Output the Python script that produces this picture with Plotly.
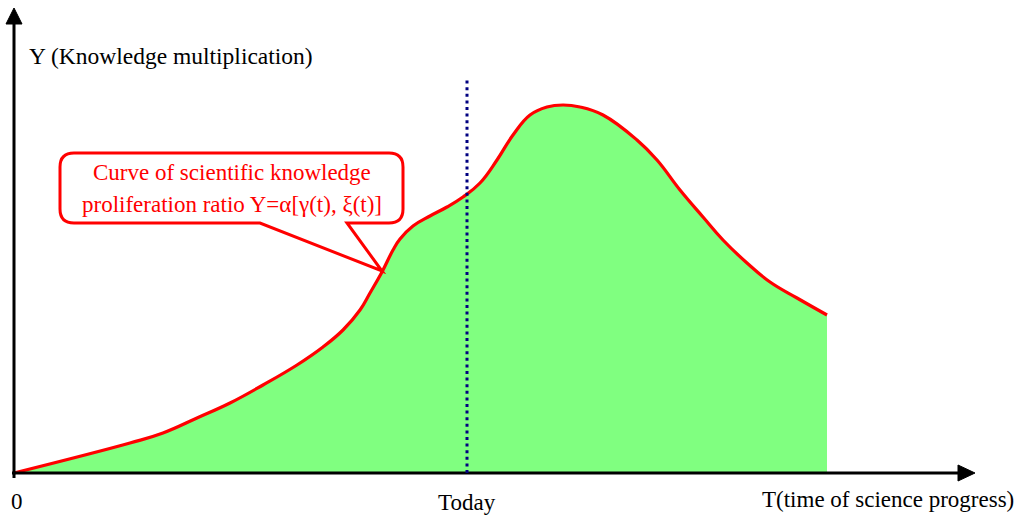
import plotly.graph_objects as go

# Knowledge proliferation curve: time of science progress vs. knowledge multiplication
t_values = [0, 116, 149, 183, 216, 249, 283, 309, 329, 346, 356, 368, 379, 386, 399, 416,
            433, 449, 466, 483, 499, 516, 533, 549, 566, 589, 623, 643, 666, 689, 709,
            733, 756, 783, 813]
y_values = [0, 30, 40, 55, 70, 88, 108, 126, 143, 163, 180, 201, 223, 234, 247, 257,
            266, 276, 290, 313, 338, 358, 366, 368, 366, 358, 333, 313, 283, 256, 233,
            210, 191, 175, 158]
today_t = 453
today_top = 395

axis_labels = ["Y (Knowledge multiplication)", "T(time of science progress)", "0", "Today"]
callout_lines = ["Curve of scientific knowledge", "proliferation ratio Y=α[γ(t), ξ(t)]"]

W, H = 1022, 515
OX, OY = 14, 473  # screen position of the origin


def dx(px):
    return px - OX


def dy(py):
    return OY - py


def pt(px, py):
    return f"{dx(px)},{dy(py)}"


fig = go.Figure()

fig.add_trace(go.Scatter(
    x=t_values, y=y_values,
    mode="lines",
    line=dict(color="#ff0000", width=3.2, shape="spline", smoothing=1.2),
    fill="tozeroy",
    fillcolor="#80ff80",
    hoverinfo="skip",
    showlegend=False,
))

shapes = []
# axes with arrowheads
shapes.append(dict(type="line", x0=dx(14), y0=dy(478), x1=dx(14), y1=dy(22),
                   line=dict(color="black", width=3)))
shapes.append(dict(type="path", path=f"M{pt(6,24)} L{pt(22,24)} L{pt(14,8)} Z",
                   fillcolor="black", line=dict(color="black", width=1)))
shapes.append(dict(type="line", x0=dx(12), y0=dy(473), x1=dx(960), y1=dy(473),
                   line=dict(color="black", width=3)))
shapes.append(dict(type="path", path=f"M{pt(958,465)} L{pt(958,481)} L{pt(975,473)} Z",
                   fillcolor="black", line=dict(color="black", width=1)))
# "today" marker
shapes.append(dict(type="line", x0=today_t, x1=today_t, y0=0, y1=today_top,
                   line=dict(color="#000080", width=3, dash="3px,3.6px")))
# speech-bubble callout pointing at the curve
bubble = (f"M{pt(74,153)} L{pt(389,153)} Q{pt(403,153)} {pt(403,167)} "
          f"L{pt(403,209)} Q{pt(403,223)} {pt(389,223)} L{pt(347,223)} "
          f"L{pt(382,271)} L{pt(260,223)} L{pt(74,223)} "
          f"Q{pt(60,223)} {pt(60,209)} L{pt(60,167)} Q{pt(60,153)} {pt(74,153)} Z")
shapes.append(dict(type="path", path=bubble, fillcolor="white",
                   line=dict(color="#ff0000", width=3)))

serif = "Liberation Serif"
annotations = [
    dict(x=dx(27), y=dy(56), text=axis_labels[0], xanchor="left", yanchor="middle",
         font=dict(family=serif, size=23.5, color="black")),
    dict(x=dx(1016), y=dy(499), text=axis_labels[1], xanchor="right", yanchor="middle",
         font=dict(family=serif, size=23, color="black")),
    dict(x=dx(17), y=dy(501), text=axis_labels[2], xanchor="center", yanchor="middle",
         font=dict(family=serif, size=23, color="black")),
    dict(x=today_t, y=dy(502), text=axis_labels[3], xanchor="center", yanchor="middle",
         font=dict(family=serif, size=23, color="black")),
    dict(x=dx(232), y=dy(172), text=callout_lines[0], xanchor="center", yanchor="middle",
         font=dict(family=serif, size=23, color="#ff0000")),
    dict(x=dx(232), y=dy(204), text=callout_lines[1], xanchor="center", yanchor="middle",
         font=dict(family=serif, size=23, color="#ff0000")),
]
for a in annotations:
    a.update(showarrow=False, xref="x", yref="y")

fig.update_layout(
    width=W, height=H,
    margin=dict(l=0, r=0, t=0, b=0),
    paper_bgcolor="white", plot_bgcolor="white",
    xaxis=dict(range=[dx(0), dx(W)], visible=False, fixedrange=True),
    yaxis=dict(range=[dy(H), dy(0)], visible=False, fixedrange=True),
    shapes=shapes,
    annotations=annotations,
    showlegend=False,
)

fig.write_html("out.html")
